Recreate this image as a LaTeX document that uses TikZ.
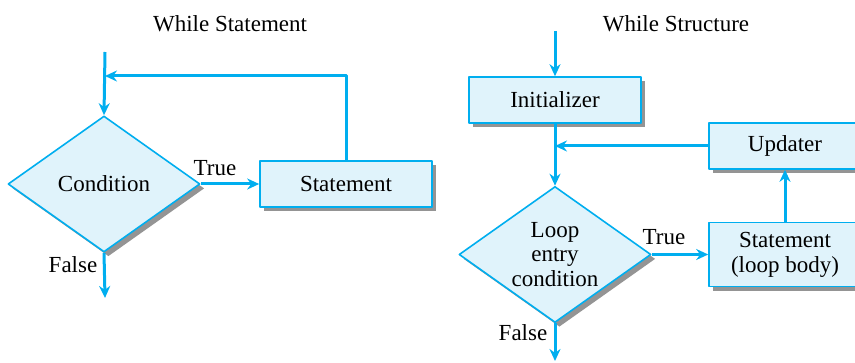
\documentclass[tikz,border=0pt]{standalone}
\usepackage{fontspec}
\newfontfamily\labelfont{LiberationSerif}[Extension=.ttf,UprightFont=*-Regular,BoldFont=*-Bold]
\usetikzlibrary{shapes.geometric,shadows,arrows.meta}
\definecolor{flow}{RGB}{0,174,239}
\definecolor{boxfill}{RGB}{224,243,251}
\tikzset{
  box/.style={draw=flow,line width=0.8pt,fill=boxfill,minimum width=86pt,minimum height=23pt,inner sep=0pt,
    drop shadow={shadow xshift=2.2pt,shadow yshift=-2.2pt,fill=black!42,opacity=1}},
  test/.style={box,shape=diamond,aspect=1.41,minimum width=96pt,minimum height=68pt},
  flowline/.style={draw=flow,line width=1.5pt}
}
\begin{document}
\begin{tikzpicture}[x=0.5pt,y=-0.5pt,>={Stealth[length=6pt,width=5.5pt]},line join=round,
  font=\labelfont\fontsize{11.5}{12.2}\selectfont]
\useasboundingbox (0,0) rectangle (855,363);
% while statement
\node at (230,24) {While Statement};
\node[test] (cond) at (104,184) {Condition};
\node[box] (stmt) at (346,184) {Statement};
\path (105,52) coordinate (in1) (105,76) coordinate (back1) (105,298) coordinate (out1);
\draw[flowline,->] (in1)--(cond.north);
\draw[flowline,->] (stmt.north) |- (back1);
\draw[flowline,->] (cond.east)--(stmt.west);
\draw[flowline,->] (cond.south)--(out1);
\node at (215,168) {True};
\node at (73,265) {False};
% while structure
\node at (676,24) {While Structure};
\node[box] (init) at (555,100) {Initializer};
\node[test,align=center,inner sep=-1pt] (loopcond) at (555,254.5) {Loop\\entry\\condition};
\node[box,minimum width=76pt,minimum height=32pt,align=center,font=\labelfont\fontsize{11.5}{12.6}\selectfont] (body) at (785,254.5) {Statement\\(loop body)};
\node[box,minimum width=76pt] (upd) at (785,146) {Updater};
\path (555,31) coordinate (in2) (555,146) coordinate (back2) (555,361) coordinate (out2);
\draw[flowline,->] (in2)--(init.north);
\draw[flowline,->] (init.south)--(loopcond.north);
\draw[flowline,->] (upd.west)--(back2);
\draw[flowline,->] (body.north)--(upd.south);
\draw[flowline,->] (loopcond.east)--(body.west);
\draw[flowline,->] (loopcond.south)--(out2);
\node at (664,237) {True};
\node at (523,333) {False};
\end{tikzpicture}
\end{document}
